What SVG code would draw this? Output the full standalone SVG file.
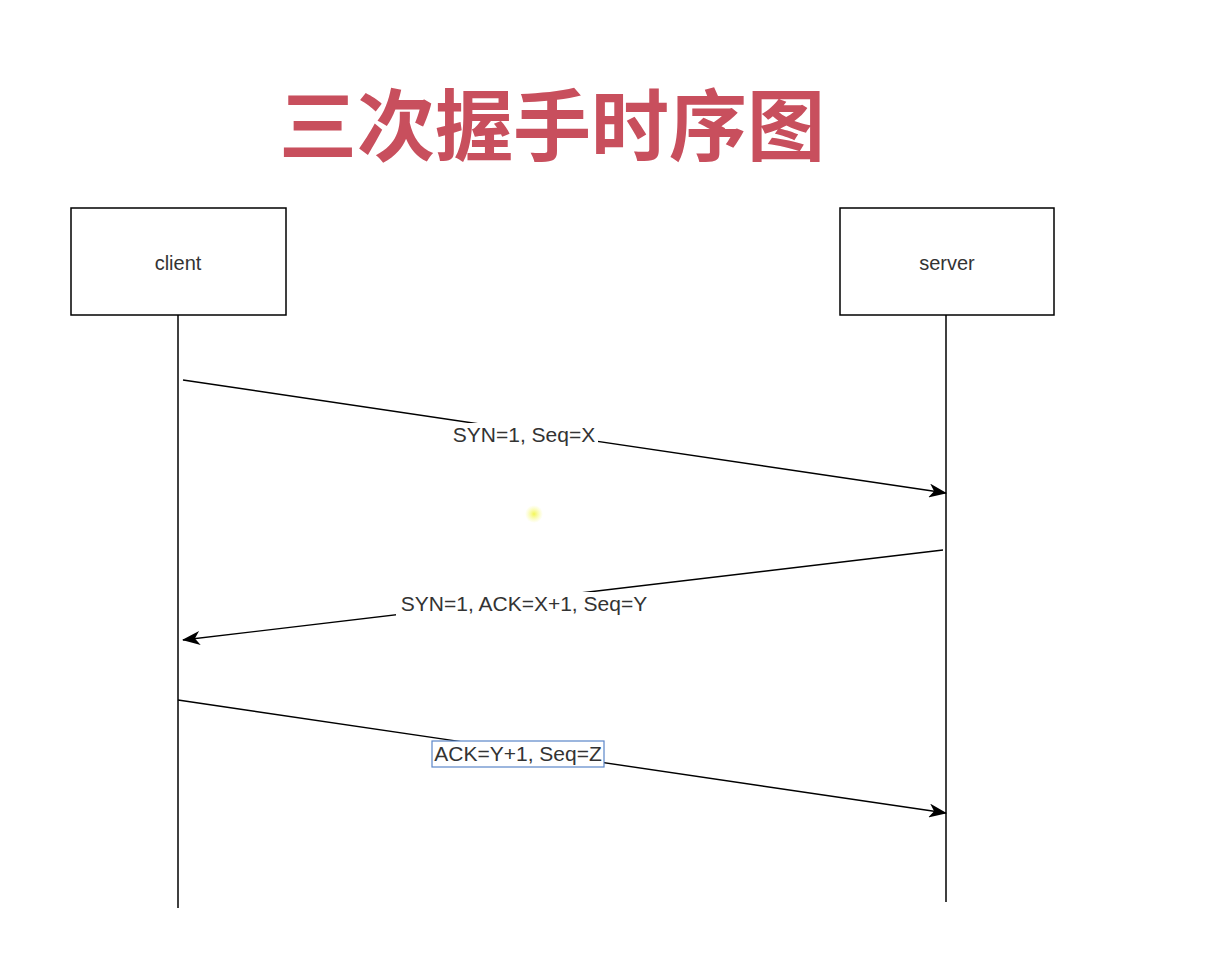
<svg xmlns="http://www.w3.org/2000/svg" width="1208" height="962" viewBox="0 0 1208 962">
<defs>
<style>
.box{fill:#fff;stroke:#000;stroke-width:1.5}
.lbl{font-family:"Liberation Sans",Arial,sans-serif;font-size:20px;fill:#333;text-anchor:middle}
.msg{font-family:"Liberation Sans",Arial,sans-serif;font-size:21px;fill:#333;text-anchor:middle}
.life{stroke:#000;stroke-width:1.5;fill:none}
.arr{stroke:#000;stroke-width:1.4;fill:none;marker-end:url(#ah)}
.bg{fill:#fff}
</style>
<marker id="ah" viewBox="0 0 18 14" refX="17" refY="7" markerWidth="18" markerHeight="14" markerUnits="userSpaceOnUse" orient="auto">
<path d="M0,0 L18,7 L0,14 L5,7 Z" fill="#000"/>
</marker>
<radialGradient id="glow">
<stop offset="0" stop-color="#f2f542" stop-opacity="0.9"/>
<stop offset="1" stop-color="#f8fa80" stop-opacity="0"/>
</radialGradient>
</defs>
<rect width="1208" height="962" fill="#fff"/>
<text id="title" x="552" y="155" font-family="'Noto Sans CJK SC',sans-serif" font-weight="bold" font-size="78" fill="#c84f5d" text-anchor="middle">三次握手时序图</text>
<g id="client">
<rect class="box" x="71" y="208" width="215" height="107"/>
<text class="lbl" x="178" y="270">client</text>
</g>
<g id="server">
<rect class="box" x="840" y="208" width="214" height="107"/>
<text class="lbl" x="947" y="270">server</text>
</g>
<g id="connectors">
<line class="life" x1="178" y1="315" x2="178" y2="908"/>
<line class="life" x1="946" y1="315" x2="946" y2="902"/>
<line class="arr" x1="183" y1="380" x2="946" y2="493"/>
<line class="arr" x1="943" y1="550" x2="183" y2="640"/>
<line class="arr" x1="178" y1="700" x2="946" y2="813"/>
</g>
<g id="label1">
<rect class="bg" x="450" y="423" width="148" height="24"/>
<text class="msg" x="524" y="442">SYN=1, Seq=X</text>
</g>
<g id="label2">
<rect class="bg" x="396" y="592" width="257" height="24"/>
<text class="msg" x="524" y="611">SYN=1, ACK=X+1, Seq=Y</text>
</g>
<g id="label3">
<rect x="432" y="741" width="172" height="26" fill="#fff" stroke="#5b86c9" stroke-width="1.2"/>
<text class="msg" x="518" y="761">ACK=Y+1, Seq=Z</text>
</g>
<circle cx="534" cy="514" r="9" fill="url(#glow)"/>
</svg>
